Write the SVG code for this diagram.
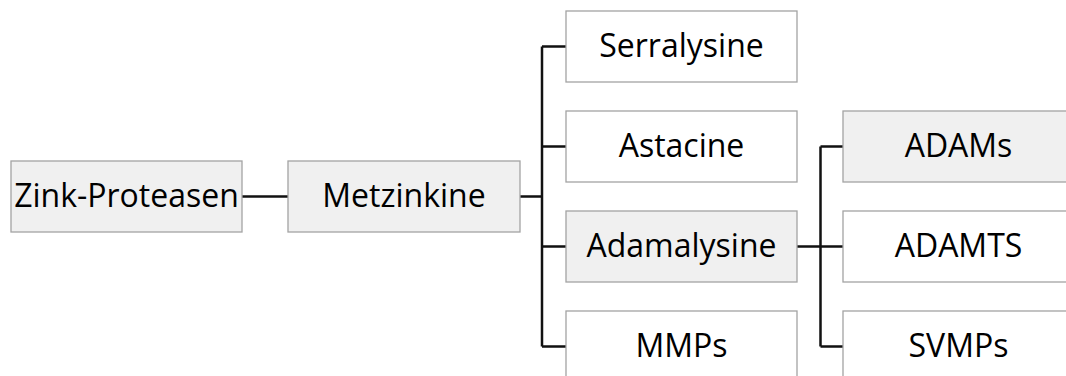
<svg xmlns="http://www.w3.org/2000/svg" width="1066" height="376" viewBox="0 0 1066 376">
<style>
.box{stroke:#a3a3a3;stroke-width:1.3}
.g{fill:#f0f0f0}
.w{fill:#ffffff}
.t{font-family:"Open Sans","Noto Sans",sans-serif;font-size:32px;fill:#000;text-anchor:middle;dominant-baseline:central}
.c{fill:none;stroke:#111111;stroke-width:2.5}
</style>
<rect width="1066" height="376" fill="#ffffff"/>
<g id="connectors">
<path class="c" d="M242 196.5H288"/>
<path class="c" d="M520 196.5H542M542 46.5V346.5M542 46.5H566M542 146.5H566M542 246.5H566M542 346.5H566"/>
<path class="c" d="M797 246.5H843M820.5 146.5V346.5M820.5 146.5H843M820.5 346.5H843"/>
</g>
<g id="zink"><rect class="box g" x="11" y="161" width="231" height="71"/><text class="t" x="126.5" y="194.5">Zink-Proteasen</text></g>
<g id="metzinkine"><rect class="box g" x="288" y="161" width="232" height="71"/><text class="t" x="404" y="194.5">Metzinkine</text></g>
<g id="serralysine"><rect class="box w" x="566" y="11" width="231" height="71"/><text class="t" x="681.5" y="44.5">Serralysine</text></g>
<g id="astacine"><rect class="box w" x="566" y="111" width="231" height="71"/><text class="t" x="681.5" y="144.5">Astacine</text></g>
<g id="adamalysine"><rect class="box g" x="566" y="211" width="231" height="71"/><text class="t" x="681.5" y="244.5">Adamalysine</text></g>
<g id="mmps"><rect class="box w" x="566" y="311" width="231" height="71"/><text class="t" x="681.5" y="344.5">MMPs</text></g>
<g id="adams"><rect class="box g" x="843" y="111" width="231" height="71"/><text class="t" x="958.5" y="144.5">ADAMs</text></g>
<g id="adamts"><rect class="box w" x="843" y="211" width="231" height="71"/><text class="t" x="958.5" y="244.5">ADAMTS</text></g>
<g id="svmps"><rect class="box w" x="843" y="311" width="231" height="71"/><text class="t" x="958.5" y="344.5">SVMPs</text></g>
</svg>
